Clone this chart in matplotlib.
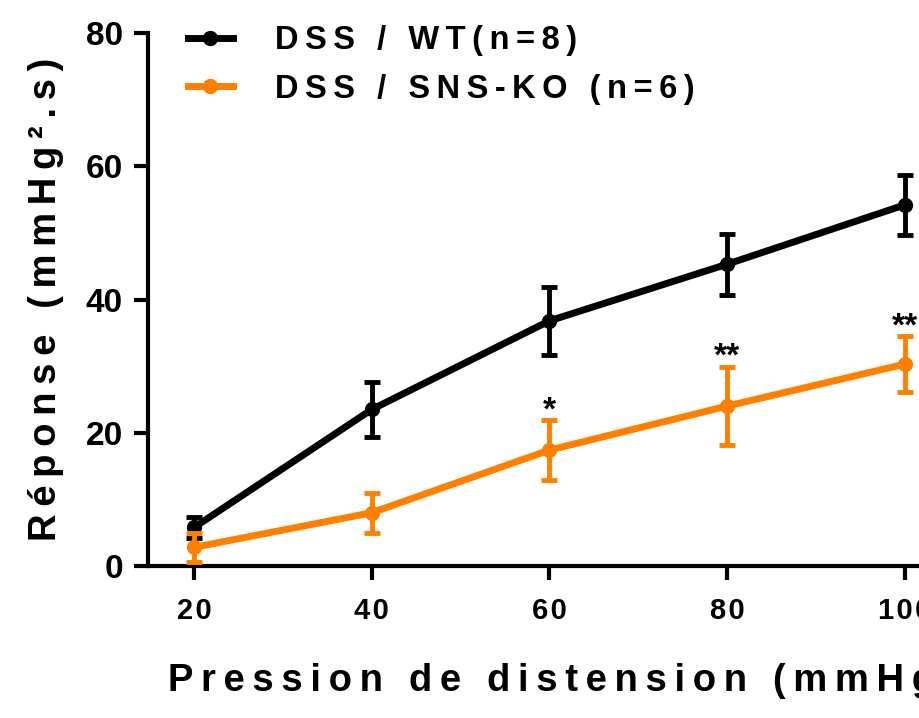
import matplotlib
matplotlib.use("Agg")
import matplotlib.pyplot as plt
from matplotlib.lines import Line2D

# data
pressure = [20, 40, 60, 80, 100]
wt_mean = [5.8, 23.5, 36.8, 45.3, 54.2]
wt_sem = [1.6, 4.1, 5.1, 4.6, 4.5]
ko_mean = [2.8, 8.0, 17.4, 24.0, 30.3]
ko_sem = [2.2, 3.0, 4.5, 5.9, 4.2]
stars = {60: "*", 80: "**", 100: "**"}
yticks = [0, 20, 40, 60, 80]
labels = ["DSS / WT(n=8)", "DSS / SNS-KO (n=6)"]

ORANGE = "#FF8000"
TS = "\u2009"  # thin space for letter spacing
HS = "\u200a"  # hair space


def spaced(s, sep=TS):
    return sep.join(s)


plt.rcParams['font.family'] = ['Liberation Sans', 'DejaVu Sans']
plt.rcParams['font.weight'] = 'bold'

fig = plt.figure(figsize=(9.19, 7.18), dpi=100)
ax = fig.add_axes([148 / 919, 1 - 566 / 718, 771 / 919, 533 / 718])

style = dict(lw=5, marker='o', ms=10, elinewidth=3.5, capsize=6, capthick=3.5)
ax.errorbar(pressure, wt_mean, yerr=wt_sem, color='black', zorder=3, **style)
ax.errorbar(pressure, ko_mean, yerr=ko_sem, color=ORANGE, zorder=4, **style)

# significance marks above the KO error bars
for x, s in stars.items():
    i = pressure.index(x)
    ax.text(x, ko_mean[i] + ko_sem[i] - 0.9, s, ha='center', va='bottom',
            fontsize=24, fontweight='bold')

ax.set_xlim(14.8, 101.6)
ax.set_ylim(0, 80)
ax.set_xticks(pressure)
ax.set_xticklabels([spaced(str(p), HS) for p in pressure])
ax.set_yticks(yticks)
ax.set_yticklabels([str(v) for v in yticks])

for side in ['top', 'right']:
    ax.spines[side].set_visible(False)
for side in ['left', 'bottom']:
    ax.spines[side].set_linewidth(3)
ax.tick_params(axis='both', width=3, length=10)
ax.tick_params(axis='x', labelsize=21, pad=12)
ax.tick_params(axis='y', labelsize=24, pad=8)

ax.set_xlabel(spaced("Pression de distension (mmHg)"), fontsize=27.5, fontweight='bold')
ax.xaxis.set_label_coords((168 - 148) / 771, -0.215)
ax.xaxis.label.set_ha('left')
ax.xaxis.label.set_va('center')
ax.set_ylabel(spaced("Réponse (mmHg².s)"), fontsize=27.5, fontweight='bold')
ax.yaxis.set_label_coords(-0.132, 0.5)
ax.yaxis.label.set_va('center')

handles = [Line2D([], [], color='black', lw=5, marker='o', ms=10),
           Line2D([], [], color=ORANGE, lw=5, marker='o', ms=10)]
ax.legend(handles, [spaced(l) for l in labels], loc='upper left',
          bbox_to_anchor=((188 - 148) / 771, 1.015), frameon=False,
          fontsize=23.5, handlelength=1.37, handletextpad=1.3, labelspacing=0.54,
          borderaxespad=0, borderpad=0)

fig.savefig("out.png", dpi=100)
